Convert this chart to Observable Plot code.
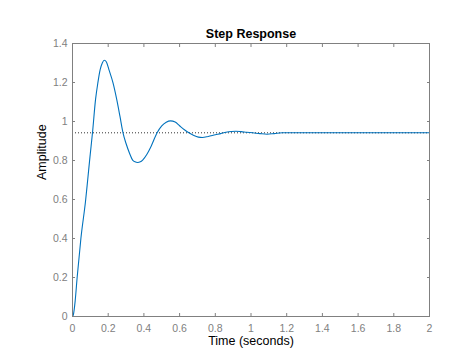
<!DOCTYPE html>
<html>
<head>
<meta charset="utf-8">
<script src="https://cdn.jsdelivr.net/npm/d3@7"></script>
<script src="https://cdn.jsdelivr.net/npm/@observablehq/plot@0.6"></script>
<style>
  html, body { margin: 0; padding: 0; background: white; }
</style>
</head>
<body>
<div id="chart"></div>
<script>
const time = [0, 0.005, 0.015, 0.026, 0.047, 0.074, 0.085, 0.098, 0.112, 0.129, 0.142, 0.155, 0.167, 0.178, 0.19, 0.204, 0.227, 0.248, 0.266, 0.283, 0.30, 0.32, 0.337, 0.35, 0.365, 0.38, 0.393, 0.417, 0.44, 0.474, 0.50, 0.525, 0.549, 0.575, 0.60, 0.627, 0.652, 0.68, 0.705, 0.727, 0.76, 0.80, 0.83, 0.86, 0.89, 0.915, 0.945, 0.975, 1.01, 1.05, 1.09, 1.13, 1.175, 1.4, 1.6, 1.8, 2.0];
const amplitude = [0, 0.01, 0.08, 0.20, 0.40, 0.60, 0.70, 0.82, 0.942, 1.112, 1.198, 1.266, 1.30, 1.314, 1.305, 1.266, 1.198, 1.112, 1.026, 0.942, 0.887, 0.836, 0.802, 0.793, 0.79, 0.793, 0.802, 0.832, 0.872, 0.942, 0.977, 0.996, 1.003, 0.997, 0.978, 0.958, 0.942, 0.928, 0.92, 0.918, 0.923, 0.932, 0.938, 0.945, 0.949, 0.950, 0.948, 0.945, 0.942, 0.938, 0.935, 0.938, 0.942, 0.942, 0.942, 0.942, 0.942];
const steadyState = [0.942];
const xTicks = [0, 0.2, 0.4, 0.6, 0.8, 1, 1.2, 1.4, 1.6, 1.8, 2];
const yTicks = [0, 0.2, 0.4, 0.6, 0.8, 1, 1.2, 1.4];
const titleText = ["Step Response"];
const xLabel = ["Time (seconds)"];
const yLabel = ["Amplitude"];

const data = time.map((t, i) => ({t, a: amplitude[i]}));
const axisGrey = "#808080";
const fmt = d => String(d);

const chart = Plot.plot({
  width: 474,
  height: 355,
  marginLeft: 72,
  marginRight: 45,
  marginTop: 43,
  marginBottom: 39,
  x: {domain: [0, 2]},
  y: {domain: [0, 1.4]},
  style: {fontFamily: "'Liberation Sans', Arial, sans-serif", background: "white", overflow: "visible"},
  marks: [
    Plot.ruleY(steadyState, {stroke: "#333333", strokeWidth: 1, strokeDasharray: "1,2"}),
    Plot.line(data, {x: "t", y: "a", stroke: "#0072BD", strokeWidth: 1.1, curve: "monotone-x"}),
    Plot.frame({stroke: axisGrey, strokeWidth: 1}),
    // inward ticks on all four sides
    Plot.axisX({anchor: "bottom", ticks: xTicks, tickSize: 3, dy: -3, fill: "none", stroke: axisGrey, label: null}),
    Plot.axisX({anchor: "top", ticks: xTicks, tickSize: 3, dy: 3, fill: "none", stroke: axisGrey, label: null}),
    Plot.axisY({anchor: "left", ticks: yTicks, tickSize: 3, dx: 3, fill: "none", stroke: axisGrey, label: null}),
    Plot.axisY({anchor: "right", ticks: yTicks, tickSize: 3, dx: -3, fill: "none", stroke: axisGrey, label: null}),
    // tick labels
    Plot.axisX({anchor: "bottom", ticks: xTicks, tickSize: 0, tickPadding: 8, tickFormat: fmt, fill: axisGrey, fontSize: 10.5, label: null}),
    Plot.axisY({anchor: "left", ticks: yTicks, tickSize: 0, tickPadding: 5, tickFormat: fmt, fill: axisGrey, fontSize: 10.5, label: null}),
    // titles
    Plot.text(titleText, {text: d => d, frameAnchor: "top", dy: -14, fontWeight: "bold", fontSize: 12.5, fill: "black"}),
    Plot.text(xLabel, {text: d => d, frameAnchor: "bottom", dy: 28, fontSize: 12.5, fill: "black"}),
    Plot.text(yLabel, {text: d => d, frameAnchor: "left", dx: -31, rotate: -90, fontSize: 12.5, fill: "black"})
  ]
});
document.getElementById("chart").appendChild(chart);
</script>
</body>
</html>
